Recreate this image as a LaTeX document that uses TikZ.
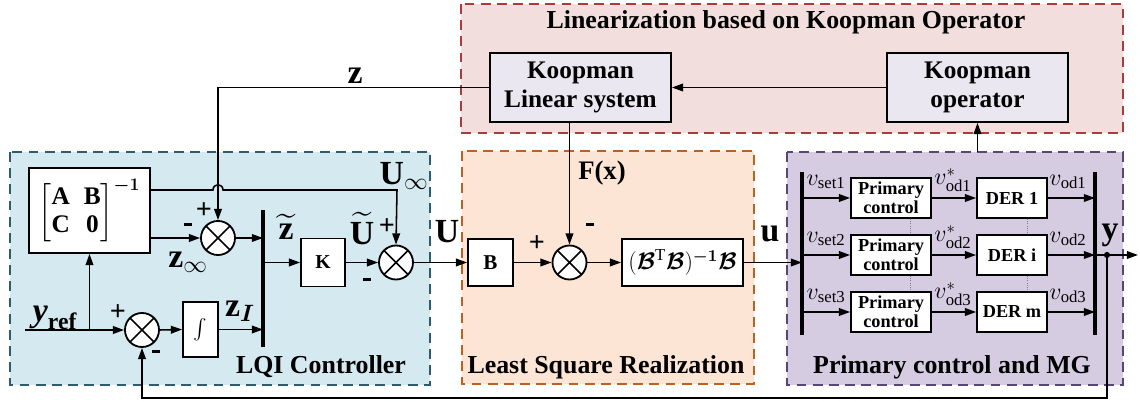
\RequirePackage{fix-cm}
\documentclass[tikz,border=0pt]{standalone}
\usepackage{fontspec}
\setmainfont{Liberation Serif}
\usepackage{amsmath,bm}
\usetikzlibrary{arrows.meta,calc}

\definecolor{lqifill}{RGB}{213,233,240}
\definecolor{lqiline}{RGB}{45,92,108}
\definecolor{lsrfill}{RGB}{252,229,213}
\definecolor{lsrline}{RGB}{192,96,30}
\definecolor{mgfill}{RGB}{214,204,226}
\definecolor{mgline}{RGB}{88,70,118}
\definecolor{linfill}{RGB}{242,222,221}
\definecolor{linline}{RGB}{168,62,60}
\definecolor{koopfill}{RGB}{234,231,240}

\newcommand{\negsign}{\rule[0.3ex]{6pt}{2.2pt}}

\begin{document}
\begin{tikzpicture}[x=0.025cm,y=-0.025cm,>={Triangle[length=8pt,width=5.5pt]},line width=1.1pt,
  every text node part/.style={align=center},
  blk/.style={draw,fill=white,line width=1.3pt,inner sep=0pt},
  sumnode/.style={circle,draw,fill=white,minimum size=0.85cm,inner sep=0pt,line width=1.3pt,
    path picture={\draw[line width=1.1pt] (path picture bounding box.north west) -- (path picture bounding box.south east)
      (path picture bounding box.north east) -- (path picture bounding box.south west);}},
  bus/.style={line width=2.2pt},
  region/.style={line width=1.4pt,dash pattern=on 7pt off 4.5pt},
  sig/.style={inner sep=0pt,font=\bfseries\fontsize{24}{26}\selectfont},
  sgn/.style={inner sep=0pt,font=\bfseries\fontsize{20}{22}\selectfont},
  title/.style={inner sep=0pt,font=\bfseries\fontsize{18.4}{20}\selectfont},
  vlbl/.style={inner sep=0pt,font=\fontsize{17}{19}\selectfont},
  pcbox/.style={blk,minimum width=2cm,minimum height=1cm,font=\bfseries\fontsize{13}{13.5}\selectfont},
  derbox/.style={blk,minimum width=1.75cm,minimum height=1cm,font=\bfseries\fontsize{13}{14}\selectfont},
  koop/.style={blk,fill=koopfill,minimum width=4.525cm,minimum height=1.725cm,font=\bfseries\fontsize{18}{21}\selectfont}]

\useasboundingbox (0,0) rectangle (1140,405);

%%%%%%%%%%%%%%%%%%%%%%%%%%%%%%%%%%%%%%

\draw [region,draw=lqiline,fill=lqifill] (10,152) rectangle (430,385);
\draw [region,draw=lsrline,fill=lsrfill] (462,151) rectangle (754,384);
\draw [region,draw=mgline,fill=mgfill] (787,152) rectangle (1123,385);
\draw [region,draw=linline,fill=linfill] (461,4) rectangle (1123,133);

\node[title] (lqit) at (321,367) {LQI Controller};
\node[title] (lsrt) at (606,367) {Least Square Realization};
\node[title] (mgt) at (952,367) {Primary control and MG};
\node[title] (lint) at (786,22) {Linearization based on Koopman Operator};

%%%%%%%%%%%%%%%%%%%%%%%%%%%%%%%%%%%%%%

\node[koop] (kls) at (580.5,87.5) {Koopman\\Linear system};
\node[koop] (kop) at (977.5,87.5) {Koopman\\operator};
\coordinate (mgtop) at (977.5,152);
\draw[->] (kop.west) -- (kls.east);
\draw[->] (mgtop) -- (kop.south);

%%%%%%%%%%%%%%%%%%%%%%%%%%%%%%%%%%%%%%

\node[blk,minimum width=3.025cm,minimum height=2.125cm,font=\boldmath\fontsize{18}{20}\selectfont] (mat) at (89.5,210.5)
  {$\left[\begin{array}{@{}cc@{}}\textbf{A}&\textbf{B}\\\textbf{C}&\textbf{0}\end{array}\right]^{-1}$};
\node[sumnode] (sumA) at (218,238) {};
\node[sumnode] (sumC) at (142,330) {};
\node[blk,minimum width=0.875cm,minimum height=1.375cm,font=\fontsize{15}{16}\selectfont] (intbox) at (200.5,329.5) {$\int$};
\node[blk,minimum width=1.1cm,minimum height=1.2cm,font=\bfseries\fontsize{14}{15}\selectfont] (kbox) at (323,262.5) {K};
\node[sumnode] (sumB) at (396,262.5) {};

\coordinate (busAt) at (263,210);
\coordinate (busAb) at (263,347);
\draw[bus] (busAt) -- (busAb);

\coordinate (yin) at (25,330);
\coordinate (yb) at (89.5,330);
\coordinate (uinf) at (397,190);

\draw[->] (kls.west) -| (sumA.north);
\draw[->] (mat.east |- uinf) -- ($(sumA |- uinf)+(-5,0)$) .. controls +(0,-7) and +(0,-7) .. ($(sumA |- uinf)+(5,0)$) -- (uinf) -- (sumB.north);
\draw[->] (mat.east |- sumA) -- (sumA.west);
\draw[->] (sumA.east) -- (sumA -| busAt);
\draw[->] (yin) -- (sumC.west);
\draw[->] (yb) -- (mat.south);
\draw[->] (sumC.east) -- (intbox.west);
\draw[->] (intbox.east) -- (intbox -| busAt);
\draw[->] (kbox -| busAt) -- (kbox.west);
\draw[->] (kbox.east) -- (sumB.west);

\node[sig] (zl) at (355,76) {z};
\node[sig] (zinfl) at (188,262) {z$_\infty$};
\node[sig] (ztl) at (286,227) {$\widetilde{\textbf{z}}$};
\node[sig] (uinfl) at (404,176) {U$_\infty$};
\node[sig] (utl) at (362,229) {$\widetilde{\textbf{U}}$};
\node[sig] (ziL) at (240,311) {z$_{\bm{I}}$};
\node[sig] (yrefl) at (55,318) {$\textbf{\textit{y}}_{\textbf{ref}}$};
\node[sgn] at (204,211) {+};
\node[sgn] at (188,226) {\negsign};
\node[sgn] at (387,227) {+};
\node[sgn] at (367,281) {\negsign};
\node[sgn] at (118,313) {+};
\node[sgn] at (156,353) {\negsign};

%%%%%%%%%%%%%%%%%%%%%%%%%%%%%%%%%%%%%%

\node[blk,minimum width=1.125cm,minimum height=1.175cm,font=\bfseries\fontsize{15}{16}\selectfont] (bbox) at (490.5,262.5) {B};
\node[sumnode] (sumD) at (569.5,262.5) {};
\node[blk,minimum width=3.025cm,minimum height=1.175cm,font=\fontsize{17}{18}\selectfont] (lsbox) at (682.5,262.5)
  {$(\bm{\mathcal{B}}^{\mathrm{T}}\bm{\mathcal{B}})^{\bm{-1}}\bm{\mathcal{B}}$};

\draw[->] (sumB.east) -- (bbox.west);
\draw[->] (bbox.east) -- (sumD.west);
\draw[->] (sumD |- kls.south) -- (sumD.north);
\draw[->] (sumD.east) -- (lsbox.west);

\node[sig] (ul) at (447,232) {U};
\node[sig,font=\bfseries\fontsize{19}{21}\selectfont] (fxl) at (602,173) {F(x)};
\node[sig] (usml) at (770,234) {u};
\node[sgn] at (537,244) {+};
\node[sgn] at (590,226) {\negsign};

%%%%%%%%%%%%%%%%%%%%%%%%%%%%%%%%%%%%%%

\coordinate (busMt) at (802,172);
\coordinate (busMb) at (802,335);
\coordinate (busRt) at (1095,172);
\coordinate (busRb) at (1095,335);
\draw[bus] (busMt) -- (busMb);
\draw[bus] (busRt) -- (busRb);
\draw[->] (lsbox.east) -- (lsbox -| busMt);

\node[pcbox] (pc1) at (891,198) {Primary\\control};
\node[pcbox] (pc2) at (891,255) {Primary\\control};
\node[pcbox] (pc3) at (891,312) {Primary\\control};
\node[derbox] (der1) at (1012,198) {DER 1};
\node[derbox] (der2) at (1012,255) {DER i};
\node[derbox] (der3) at (1012,312) {DER m};

\draw[->] (busMt |- pc1) -- (pc1.west);
\draw[->] (busMt |- pc2) -- (pc2.west);
\draw[->] (busMt |- pc3) -- (pc3.west);
\draw[->] (pc1.east) -- (der1.west);
\draw[->] (pc2.east) -- (der2.west);
\draw[->] (pc3.east) -- (der3.west);
\draw[->] (der1.east) -- (der1 -| busRt);
\draw[->] (der2.east) -- (der2 -| busRt);
\draw[->] (der3.east) -- (der3 -| busRt);

\draw[densely dotted,gray,line width=0.6pt] ([xshift=0.475cm]pc1.south) -- ([xshift=0.475cm]pc2.north);
\draw[densely dotted,gray,line width=0.6pt] ([xshift=0.475cm]pc2.south) -- ([xshift=0.475cm]pc3.north);
\draw[densely dotted,gray,line width=0.6pt] ([xshift=0.375cm]der1.south) -- ([xshift=0.375cm]der2.north);
\draw[densely dotted,gray,line width=0.6pt] ([xshift=0.375cm]der2.south) -- ([xshift=0.375cm]der3.north);

\node[vlbl] at (826,182) {$v_{\mathrm{set1}}$};
\node[vlbl] at (826,239) {$v_{\mathrm{set2}}$};
\node[vlbl] at (826,296) {$v_{\mathrm{set3}}$};
\node[vlbl] at (953,180) {$v^{*}_{\mathrm{od1}}$};
\node[vlbl] at (953,237) {$v^{*}_{\mathrm{od2}}$};
\node[vlbl] at (953,294) {$v^{*}_{\mathrm{od3}}$};
\node[vlbl] at (1068,182) {$v_{\mathrm{od1}}$};
\node[vlbl] at (1068,239) {$v_{\mathrm{od2}}$};
\node[vlbl] at (1068,296) {$v_{\mathrm{od3}}$};

%%%%%%%%%%%%%%%%%%%%%%%%%%%%%%%%%%%%%%

\coordinate (ydot) at (1107,255);
\coordinate (yout) at (1138,255);
\coordinate (fbl) at (0,398);
\draw[->] (busRt |- der2) -- (yout);
\fill (ydot) circle (2.2pt);
\draw[->] (ydot) -- (ydot |- fbl) -| (sumC.south);
\node[sig] (yl) at (1110,235) {y};

\end{tikzpicture}
\end{document}
